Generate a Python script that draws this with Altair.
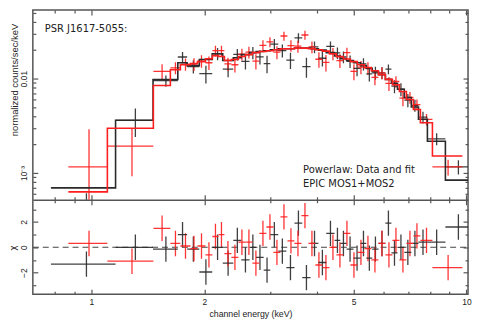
import altair as alt
import pandas as pd

# ---------------- chart values ----------------
series_names = ["MOS1", "MOS2"]
series_colors = ["#2a2a2a", "#ff1e1e"]

# MOS1 (black): energy bin edges (keV), rate, 1-sigma error, model, residual chi
mos1_edges = [0.78, 1.16, 1.46, 1.70, 1.80, 1.94, 2.10, 2.24, 2.39, 2.51, 2.64, 2.75, 2.88,
              3.00, 3.15, 3.31, 3.48, 3.65, 3.84, 4.03, 4.23, 4.45, 4.61, 4.79, 5.00, 5.22,
              5.41, 5.61, 5.83, 6.08, 6.31, 6.55, 6.83, 7.13, 7.45, 7.87, 8.79, 10.25]
mos1_rate = [3.6e-4, 3.61e-3, 9.5e-3, 0.0169, 0.0134, 0.01125, 0.0183, 0.0126, 0.0180,
             0.0152, 0.0188, 0.0170, 0.0144, 0.0232, 0.0198, 0.0157, 0.0270, 0.0134,
             0.0216, 0.0164, 0.0219, 0.0187, 0.0169, 0.0152, 0.0128, 0.0143, 0.0112,
             0.0115, 0.0115, 0.0126, 0.0083, 0.0077, 0.0059, 0.0052, 0.0039, 0.0023, 0.00116]
mos1_err = [2.5e-4, 1.2e-3, 1.3e-3, 0.0022, 0.0021, 0.0024, 0.0027, 0.0023, 0.0025, 0.0027,
            0.0028, 0.0029, 0.0030, 0.0030, 0.0031, 0.0031, 0.0032, 0.0032, 0.0031, 0.0030,
            0.0028, 0.0026, 0.0024, 0.0023, 0.0022, 0.0021, 0.0019, 0.0018, 0.0017, 0.0015,
            0.0013, 0.0012, 0.00095, 0.00075, 0.00056, 0.00033, 0.0002]
mos1_model = [6.95e-4, 3.61e-3, 9.76e-3, 0.0147, 0.0137, 0.0159, 0.0183, 0.0155, 0.0166,
              0.0179, 0.0188, 0.0193, 0.0197, 0.0202, 0.0207, 0.0207, 0.0210, 0.0210,
              0.0207, 0.0200, 0.0188, 0.0173, 0.0162, 0.0155, 0.0147, 0.0137, 0.0128,
              0.0118, 0.0110, 0.0098, 0.0089, 0.0077, 0.0063, 0.0050, 0.0037, 0.00217, 0.00084]
mos1_chi = [-1.33, 0.0, -0.15, 1.0, -0.15, -1.95, 0.0, -1.25, 0.55, -1.0, 0.0, -0.8, -1.8,
            1.0, -0.3, -1.6, 1.9, -2.4, 0.3, -1.2, 1.1, 0.55, 0.3, -0.15, -0.85, 0.3, -0.85,
            -0.15, 0.3, 1.9, -0.45, 0.0, -0.4, 0.3, 0.4, 0.4, 1.6]

# MOS2 (red)
mos2_edges = [0.868, 1.103, 1.463, 1.624, 1.727, 1.837, 1.918, 2.014, 2.102, 2.182, 2.263,
              2.362, 2.466, 2.574, 2.687, 2.805, 2.929, 3.057, 3.192, 3.332, 3.478, 3.631,
              3.791, 3.956, 4.130, 4.312, 4.501, 4.699, 4.905, 5.121, 5.346, 5.580, 5.825,
              6.081, 6.349, 6.627, 6.918, 7.223, 7.539, 8.117, 9.757]
mos2_rate = [1.16e-3, 1.92e-3, 0.0119, 0.0130, 0.0142, 0.0142, 0.0153, 0.0147, 0.0197,
             0.0197, 0.0143, 0.0140, 0.0181, 0.0190, 0.0153, 0.0225, 0.0244, 0.0190, 0.0282,
             0.0223, 0.0220, 0.0289, 0.0216, 0.0160, 0.0148, 0.0183, 0.0155, 0.0188, 0.0119,
             0.0132, 0.0129, 0.0103, 0.0115, 0.0089, 0.0093, 0.0062, 0.0063, 0.0053, 0.0037,
             0.00116]
mos2_err = [1.75e-3, 1.0e-3, 2.3e-3, 0.0019, 0.0021, 0.0022, 0.0023, 0.0024, 0.0026, 0.0026,
            0.0023, 0.0024, 0.0026, 0.0027, 0.0028, 0.0029, 0.0030, 0.0030, 0.0031, 0.0031,
            0.0032, 0.0032, 0.0031, 0.0030, 0.0029, 0.0027, 0.0026, 0.0024, 0.0023, 0.0021,
            0.0020, 0.0018, 0.0017, 0.0015, 0.0013, 0.0011, 0.0009, 0.0007, 0.00051, 0.00022]
mos2_model = [6.31e-4, 2.98e-3, 8.44e-3, 0.0124, 0.0140, 0.0144, 0.0151, 0.0162, 0.0175,
              0.0171, 0.0155, 0.0159, 0.0171, 0.0179, 0.0188, 0.0193, 0.0197, 0.0202, 0.0207,
              0.0207, 0.0210, 0.0210, 0.0207, 0.0202, 0.0195, 0.0183, 0.01705, 0.0161, 0.0151,
              0.0140, 0.0131, 0.0121, 0.0110, 0.0098, 0.0086, 0.0073, 0.0060, 0.0047, 0.0034,
              0.00151]
mos2_chi = [0.3, -1.1, 1.5, 0.3, 0.1, -0.1, 0.1, -0.6, 0.85, 1.0, -0.5, -0.8, 0.4, 0.4,
            -1.25, 1.1, 1.6, -0.4, 2.4, 0.5, 0.3, 2.5, 0.3, -1.4, -1.6, 0.0, -0.6, 1.1, -1.4,
            -0.4, -0.1, -1.0, 0.3, -0.6, 0.55, -1.0, 0.3, 0.9, 0.55, -1.6]

# axis ranges, ticks and texts
x_domain = [0.698, 10.1]
rate_domain = [5.2e-4, 0.0532]
chi_domain = [-3.7, 3.75]
x_major = [1, 2, 5, 10]
x_minor = [0.8, 0.9, 3, 4, 6, 7, 8, 9]
y_major = [0.001, 0.01]
y_minor = [6e-4, 7e-4, 8e-4, 9e-4, 0.002, 0.003, 0.004, 0.005, 0.006, 0.007, 0.008,
           0.009, 0.02, 0.03, 0.04, 0.05]
chi_major = [-2, 0, 2]
chi_minor = [-3, -1, 1, 3]
source_text = ["PSR J1617-5055:"]
fit_text = ["Powerlaw: Data and fit"]
instr_text = ["EPIC MOS1+MOS2"]
x_title = "channel energy (keV)"
y_title_top = "normalized counts/sec/keV"
y_title_bottom = "χ"

# ---------------- tables ----------------
rows, steps = [], []
for name, edges, rate, err, model, chi in [
    ("MOS1", mos1_edges, mos1_rate, mos1_err, mos1_model, mos1_chi),
    ("MOS2", mos2_edges, mos2_rate, mos2_err, mos2_model, mos2_chi),
]:
    for i in range(len(rate)):
        lo, hi = edges[i], edges[i + 1]
        rows.append(dict(series=name, lo=lo, hi=hi, mid=(lo + hi) / 2, rate=rate[i],
                         rlo=max(rate[i] - err[i], rate_domain[0]),
                         rhi=min(rate[i] + err[i], rate_domain[1]),
                         chi=chi[i], clo=chi[i] - 1, chigh=chi[i] + 1))
    for i, e in enumerate(edges):
        steps.append(dict(series=name, e=e, m=model[min(i, len(model) - 1)]))
df = pd.DataFrame(rows)
step_df = pd.DataFrame(steps)

# ---------------- styling ----------------
FONT = "Liberation Sans"
NOTE_FONT = "DejaVu Sans"
INK = "#222222"
FRAME = "#555555"
W, H = 438, 286
SPLIT = 191  # boundary between the spectrum panel and the residual panel

xs = alt.Scale(type="log", domain=x_domain, nice=False)
ys = alt.Scale(type="log", domain=rate_domain, nice=False, range=[SPLIT, 0])
cs = alt.Scale(domain=chi_domain, nice=False, zero=False, range=[H, SPLIT])
col = alt.Scale(domain=series_names, range=series_colors)
color = alt.Color("series:N", scale=col, legend=None)


def tick_layer(channel, values, orient, size, scale, offset=None, **extra):
    ax = dict(orient=orient, values=values, tickSize=size,
              offset=-size if offset is None else offset, domain=False,
              grid=False, labels=False, tickColor=FRAME, tickWidth=1.2, title=None)
    ax.update(extra)
    d = pd.DataFrame({"v": values})
    if channel == "x":
        enc = dict(x=alt.X("v:Q", scale=scale, axis=alt.Axis(**ax)),
                   y=alt.value(0), y2=alt.value(1))
    else:
        enc = dict(y=alt.Y("v:Q", scale=scale, axis=alt.Axis(**ax)),
                   x=alt.value(0), x2=alt.value(1))
    return alt.Chart(d).mark_rule(opacity=0).encode(**enc)


def text_layer(lines, px, py, size=10):
    return alt.Chart(pd.DataFrame({"t": lines})).mark_text(
        align="left", baseline="middle", font=NOTE_FONT, fontSize=size, color=INK
    ).encode(text="t:N", x=alt.value(px), y=alt.value(py))


label_style = dict(labels=True, labelFont=FONT, labelFontSize=8.5, labelColor=INK,
                   labelFlush=False)
ytitle_style = dict(titleFont=FONT, titleFontSize=9.5, titleFontWeight="normal",
                    titleColor=INK, titleAngle=270, titleAlign="center",
                    titleBaseline="middle")

# ---------------- spectrum panel ----------------
top_v = alt.Chart(df).mark_rule(strokeWidth=1.3, opacity=0.9, clip=True).encode(
    x=alt.X("mid:Q", scale=xs, axis=None),
    y=alt.Y("rlo:Q", scale=ys, axis=None), y2="rhi:Q", color=color)
top_h = alt.Chart(df).transform_filter(f"datum.rate >= {rate_domain[0]}").mark_rule(
    strokeWidth=1.3, opacity=0.9, clip=True).encode(
    x=alt.X("lo:Q", scale=xs, axis=None), x2="hi:Q",
    y=alt.Y("rate:Q", scale=ys, axis=None), color=color)
top_m = alt.Chart(step_df).mark_line(interpolate="step-after", strokeWidth=1.6,
                                     clip=True).encode(
    x=alt.X("e:Q", scale=xs, axis=None), y=alt.Y("m:Q", scale=ys, axis=None), color=color)

# ---------------- residual panel ----------------
zero = alt.Chart(pd.DataFrame({"z": [0]})).mark_rule(
    strokeDash=[6, 4], color="#444444", strokeWidth=1.2).encode(
    y=alt.Y("z:Q", scale=cs, axis=None), x=alt.value(0), x2=alt.value(W))
bot_v = alt.Chart(df).mark_rule(strokeWidth=1.3, opacity=0.9, clip=True).encode(
    x=alt.X("mid:Q", scale=xs, axis=None),
    y=alt.Y("clo:Q", scale=cs, axis=None), y2="chigh:Q", color=color)
bot_h = alt.Chart(df).mark_rule(strokeWidth=1.3, opacity=0.9, clip=True).encode(
    x=alt.X("lo:Q", scale=xs, axis=None), x2="hi:Q",
    y=alt.Y("chi:Q", scale=cs, axis=None), color=color)

gap = SPLIT - H  # offset that puts a bottom axis on the panel boundary

chart = alt.layer(
    zero, bot_v, bot_h, top_v, top_h, top_m,
    text_layer(source_text, 12, 19),
    text_layer(fit_text, 272, 161),
    text_layer(instr_text, 272, 175),
    # x ticks of the spectrum panel
    tick_layer("x", x_major, "bottom", 5, xs, offset=gap - 5),
    tick_layer("x", x_minor, "bottom", 3, xs, offset=gap - 3),
    tick_layer("x", x_major, "top", 5, xs),
    tick_layer("x", x_minor, "top", 3, xs),
    # panel boundary + top ticks of the residual panel
    tick_layer("x", x_major, "bottom", 5, xs, offset=gap, domain=True,
               domainColor=FRAME, domainWidth=1.5),
    tick_layer("x", x_minor, "bottom", 3, xs, offset=gap),
    # x ticks and labels of the residual panel
    tick_layer("x", x_major, "bottom", 5, xs, labelPadding=3, labelAngle=0,
               title=x_title, titleFont=FONT, titleFontSize=8.8, titleFontWeight="normal",
               titleColor=INK, titleX=W / 2, titleY=24, titleBaseline="middle",
               titleAlign="center", **label_style),
    tick_layer("x", x_minor, "bottom", 3, xs),
    # y ticks of the spectrum panel
    tick_layer("y", y_major, "left", 5, ys,
               labelExpr="datum.value > 0.005 ? '0.01' : '10⁻³'",
               labelAngle=270, labelAlign="center", labelBaseline="bottom", labelPadding=4,
               title=y_title_top, titleX=-23, titleY=70, **label_style, **ytitle_style),
    tick_layer("y", y_minor, "left", 3, ys),
    tick_layer("y", y_major, "right", 5, ys),
    tick_layer("y", y_minor, "right", 3, ys),
    # y ticks of the residual panel
    tick_layer("y", chi_major, "left", 5, cs, labelAngle=270, labelAlign="center",
               labelBaseline="bottom", labelPadding=4, title=y_title_bottom,
               titleX=-25, titleY=239, **label_style, **ytitle_style),
    tick_layer("y", chi_minor, "left", 3, cs),
    tick_layer("y", chi_major, "right", 5, cs),
    tick_layer("y", chi_minor, "right", 3, cs),
).resolve_scale(y="independent").resolve_axis(x="independent", y="independent").properties(
    width=W, height=H, padding={"left": 0, "top": 0, "right": 0, "bottom": 0},
    background="white"
).configure_view(stroke=FRAME, strokeWidth=1.5)

chart.save("out.html", embed_options={"renderer": "svg", "actions": False})
